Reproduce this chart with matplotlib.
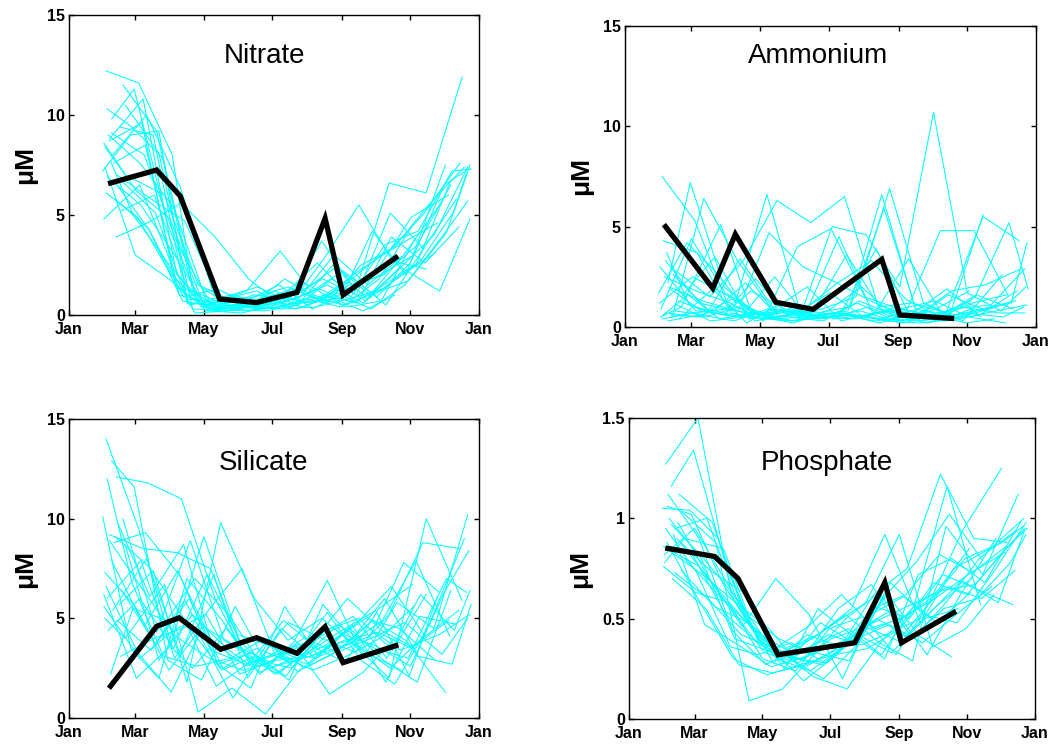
import matplotlib.pyplot as plt

plt.rcParams['font.family'] = ['Liberation Sans', 'DejaVu Sans']

# sampling days (day of year) for each year of the record
days = [
    [33, 62, 92, 110, 140, 170, 200, 230, 262, 292, 325, 355],
    [38, 58, 88, 118, 148, 178, 208, 238, 268, 298, 330],
    [30, 55, 80, 105, 135, 165, 195, 225, 255, 285, 315, 348],
    [42, 70, 100, 130, 160, 190, 220, 250, 280, 310, 340],
    [36, 66, 96, 126, 156, 186, 216, 246, 276, 306],
    [45, 75, 105, 135, 165, 195, 225, 255, 285, 318, 350],
    [32, 50, 85, 115, 145, 175, 205, 235, 265, 295, 330, 357],
    [40, 68, 98, 128, 158, 188, 218, 248, 278, 308],
    [34, 64, 94, 124, 154, 184, 214, 244, 274, 304, 334, 356],
    [48, 78, 108, 138, 168, 198, 228, 258, 288, 318],
    [31, 60, 90, 120, 150, 180, 210, 240, 270, 300, 335],
    [44, 72, 102, 132, 162, 192, 222, 252, 282, 312, 345],
    [37, 57, 87, 112, 142, 172, 202, 232, 262, 290],
    [41, 71, 101, 131, 161, 191, 221, 251, 281, 311, 341, 358],
    [35, 63, 93, 123, 153, 183, 213, 243, 273, 303, 328],
    [50, 80, 110, 140, 170, 200, 230, 260, 290, 320, 352],
    [33, 61, 91, 116, 146, 176, 206, 236, 266, 296],
    [39, 69, 99, 129, 159, 189, 219, 249, 279, 309, 339],
    [46, 76, 106, 136, 166, 196, 226, 256, 286, 316],
    [32, 59, 89, 119, 149, 179, 209, 239, 269, 299, 332, 355],
    [36, 65, 95, 125, 155, 185, 215, 245, 275, 305, 338],
    [43, 73, 103, 133, 163, 193, 223, 253, 283, 313, 343, 357],
    [34, 56, 84, 114, 144, 174, 204, 234, 264, 294, 326],
    [47, 77, 107, 137, 167, 197, 227, 257, 287, 317, 347],
    [38, 67, 97, 127, 157, 187, 217, 247, 277, 307],
    [31, 63, 93, 122, 152, 182, 212, 242, 272, 302, 336, 354],
]

nitrate = [
    [12.2, 11.6, 8.0, 1.2, 0.5, 0.4, 0.8, 1.5, 0.6, 2.2, 4.0, 7.4],
    [9.8, 11.3, 4.5, 0.4, 0.3, 0.6, 1.2, 2.4, 1.0, 3.0, 5.5],
    [7.2, 9.0, 9.2, 0.8, 0.6, 0.9, 1.4, 0.7, 2.1, 3.2, 5.0, 7.6],
    [3.9, 4.6, 5.6, 3.9, 1.8, 0.5, 0.7, 1.5, 2.0, 3.5, 6.5],
    [8.8, 10.8, 2.0, 0.3, 0.2, 0.4, 0.9, 0.5, 1.8, 4.5],
    [9.4, 9.0, 0.6, 0.5, 1.0, 0.8, 3.7, 1.2, 6.6, 6.1, 11.9],
    [8.4, 7.0, 6.0, 1.5, 0.4, 0.3, 0.6, 2.5, 0.8, 2.4, 1.2, 4.8],
    [7.6, 8.5, 1.0, 0.6, 1.2, 3.2, 1.0, 0.4, 0.7, 3.8],
    [6.9, 5.5, 3.0, 0.2, 0.1, 0.5, 1.1, 2.2, 0.9, 2.6, 6.5, 7.3],
    [11.5, 9.2, 1.7, 0.9, 1.4, 0.6, 2.9, 5.5, 2.7, 2.3],
    [8.6, 6.2, 4.8, 0.5, 0.8, 0.4, 1.6, 0.6, 4.2, 2.0, 7.5],
    [6.4, 4.2, 0.9, 1.3, 0.5, 1.8, 0.8, 1.9, 0.5, 3.0, 5.8],
    [7.7, 5.0, 2.7, 0.1, 0.2, 0.7, 0.3, 0.9, 0.2, 1.0],
    [5.8, 4.3, 0.7, 0.4, 0.6, 1.0, 2.6, 0.9, 3.5, 4.2, 7.2, 7.3],
    [9.0, 7.6, 5.4, 0.6, 0.3, 1.2, 0.5, 1.4, 2.8, 3.8, 4.6],
    [10.5, 8.1, 0.3, 0.2, 0.8, 1.3, 0.6, 2.5, 3.4, 5.5, 7.4],
    [6.1, 4.9, 2.0, 0.7, 1.0, 0.5, 0.9, 3.0, 1.5, 2.9],
    [8.0, 10.0, 6.4, 1.0, 0.4, 0.3, 0.4, 0.8, 1.3, 2.5, 6.6],
    [5.2, 6.0, 1.3, 0.3, 0.6, 0.9, 1.8, 1.0, 5.1, 3.3],
    [7.4, 3.0, 1.8, 0.4, 0.9, 0.7, 0.4, 1.1, 0.3, 1.5, 3.9, 5.7],
    [8.7, 9.6, 1.4, 0.3, 0.5, 1.0, 0.6, 0.9, 2.3, 4.9, 6.0],
    [7.0, 5.8, 4.7, 0.9, 0.4, 0.7, 1.3, 0.6, 1.6, 2.7, 5.2, 7.5],
    [10.3, 9.4, 7.8, 0.6, 0.3, 0.2, 0.5, 1.8, 0.7, 1.9, 3.1],
    [6.7, 5.1, 0.5, 0.8, 1.2, 0.4, 1.0, 0.6, 3.9, 2.6, 4.4],
    [9.1, 8.0, 3.5, 0.5, 0.7, 1.5, 0.3, 1.2, 2.0, 3.0],
    [4.8, 6.5, 2.3, 0.2, 0.6, 0.3, 0.8, 0.4, 1.1, 1.7, 4.1, 7.1],
]

ammonium = [
    [7.5, 5.3, 1.0, 0.6, 0.8, 0.5, 0.6, 0.4, 0.3, 0.9, 1.1, 2.9],
    [2.2, 7.2, 2.0, 0.6, 0.9, 0.4, 1.3, 0.6, 0.2, 0.5, 1.0],
    [1.7, 4.2, 2.8, 1.0, 0.5, 0.6, 0.7, 0.4, 0.8, 0.3, 0.6, 1.8],
    [0.5, 6.4, 3.3, 0.9, 0.6, 4.5, 0.7, 0.8, 4.8, 4.8, 1.6],
    [3.3, 1.2, 0.8, 6.6, 0.7, 0.5, 1.0, 0.3, 0.9, 1.8],
    [2.8, 1.5, 3.3, 6.3, 5.2, 6.5, 1.0, 1.2, 0.7, 5.5, 4.3],
    [0.5, 1.0, 5.1, 0.3, 0.6, 0.9, 1.5, 6.9, 1.2, 0.4, 0.8, 1.1],
    [1.9, 0.8, 0.5, 4.7, 3.0, 2.2, 1.3, 0.6, 0.3, 0.9],
    [4.3, 3.7, 0.7, 0.4, 0.3, 5.0, 4.6, 2.0, 10.7, 1.7, 0.8, 2.0],
    [0.4, 1.9, 0.2, 1.2, 0.6, 0.8, 6.6, 0.9, 0.5, 5.6],
    [1.2, 2.5, 1.6, 0.5, 0.2, 0.8, 2.0, 0.5, 1.1, 0.3, 2.6],
    [0.8, 0.6, 3.4, 0.9, 2.0, 0.3, 0.7, 3.4, 0.6, 1.6, 0.9],
    [3.7, 1.1, 0.6, 1.8, 0.9, 0.4, 0.6, 0.3, 0.2, 0.4],
    [0.6, 0.5, 1.0, 0.4, 0.5, 0.7, 0.3, 0.5, 0.4, 1.5, 5.2, 1.9],
    [2.5, 1.8, 1.2, 0.3, 4.0, 4.9, 1.5, 0.9, 0.6, 0.2, 0.4],
    [1.5, 3.5, 0.4, 0.8, 0.7, 1.0, 5.9, 0.6, 1.8, 2.1, 2.9],
    [0.4, 0.7, 0.9, 2.4, 0.5, 0.3, 1.2, 0.4, 0.8, 0.6],
    [2.0, 1.3, 0.8, 0.6, 0.9, 2.2, 3.3, 1.4, 0.5, 1.2, 1.6],
    [1.1, 0.3, 0.5, 0.9, 0.4, 0.6, 0.2, 0.7, 1.9, 0.5],
    [0.9, 4.4, 1.7, 0.7, 0.3, 0.5, 0.8, 0.3, 0.5, 1.0, 0.7, 0.7],
    [0.7, 0.5, 1.4, 0.5, 1.1, 0.4, 0.6, 0.9, 1.3, 0.5, 0.2],
    [2.6, 0.9, 0.5, 2.5, 0.4, 0.8, 3.9, 0.6, 0.3, 0.8, 1.2, 4.2],
    [0.6, 1.6, 0.4, 0.7, 0.3, 0.5, 0.4, 0.8, 0.3, 0.6, 1.0],
    [1.3, 0.7, 2.2, 0.5, 0.8, 3.6, 0.9, 0.4, 1.6, 0.9, 1.3],
    [0.3, 0.6, 0.3, 0.9, 0.5, 0.7, 0.5, 0.2, 0.6, 1.3],
    [3.0, 0.8, 0.6, 0.4, 0.7, 1.7, 0.5, 1.0, 0.4, 0.7, 0.5, 1.0],
]

silicate = [
    [14.0, 9.5, 3.5, 2.5, 4.5, 2.2, 3.8, 6.9, 3.0, 5.8, 4.5, 10.2],
    [12.9, 11.6, 2.9, 1.9, 5.6, 2.5, 3.0, 3.5, 4.1, 7.8, 6.3],
    [10.1, 3.5, 2.0, 7.0, 5.0, 2.6, 4.8, 4.0, 3.3, 5.2, 8.8, 8.5],
    [12.1, 11.8, 11.0, 6.0, 2.8, 3.3, 3.0, 4.5, 2.9, 1.8, 6.4],
    [9.2, 8.5, 8.3, 7.5, 3.2, 2.2, 3.6, 2.8, 5.5, 6.7],
    [5.7, 7.4, 1.8, 9.8, 6.0, 3.9, 5.0, 3.6, 2.0, 10.0, 5.9],
    [5.0, 4.0, 6.7, 0.3, 1.5, 0.2, 2.4, 3.2, 4.6, 3.4, 4.2, 5.2],
    [8.8, 9.3, 7.2, 3.8, 2.6, 3.4, 3.9, 6.0, 4.4, 3.5],
    [6.0, 7.9, 3.0, 5.4, 7.5, 3.1, 2.7, 4.2, 3.6, 2.6, 6.3, 8.4],
    [10.0, 4.3, 8.9, 3.9, 2.9, 2.5, 4.4, 5.0, 3.4, 6.2],
    [6.2, 2.0, 3.6, 9.1, 4.2, 3.6, 2.5, 3.4, 4.9, 3.9, 1.3],
    [9.7, 6.1, 8.7, 2.7, 1.5, 5.6, 3.1, 4.7, 1.8, 5.1, 4.7],
    [2.2, 5.5, 4.9, 7.0, 5.2, 2.6, 3.6, 1.2, 2.3, 4.0],
    [9.1, 7.6, 5.1, 1.6, 2.8, 4.9, 3.5, 3.9, 6.0, 3.1, 2.7, 5.7],
    [4.4, 6.0, 3.5, 7.2, 3.8, 2.2, 3.3, 4.4, 5.4, 2.1, 6.1],
    [8.7, 2.9, 5.2, 3.5, 2.3, 3.0, 5.3, 2.9, 1.7, 4.6, 9.0],
    [6.6, 3.3, 1.3, 4.2, 1.0, 3.7, 2.9, 4.5, 3.2, 2.4],
    [5.4, 8.0, 3.2, 7.2, 2.0, 4.5, 3.0, 3.7, 4.9, 7.9, 4.1],
    [3.1, 4.0, 4.6, 2.4, 3.1, 1.9, 5.7, 3.7, 2.5, 4.1],
    [7.3, 5.6, 2.4, 4.6, 3.6, 2.8, 4.0, 3.3, 4.0, 4.8, 3.2, 5.0],
    [8.9, 6.5, 4.1, 3.0, 2.4, 2.9, 3.1, 3.9, 4.3, 3.5, 4.9],
    [4.9, 3.4, 5.9, 2.7, 3.3, 2.1, 4.2, 5.1, 3.0, 6.2, 4.4, 6.4],
    [12.0, 6.8, 3.1, 2.6, 3.0, 4.0, 2.3, 3.8, 5.0, 4.5, 2.9],
    [6.4, 3.7, 6.0, 2.5, 3.5, 2.8, 3.6, 4.8, 6.6, 4.1, 5.4],
    [7.9, 4.6, 7.4, 3.4, 2.7, 3.2, 2.4, 3.1, 4.0, 5.6],
    [5.6, 3.0, 4.4, 5.2, 2.2, 2.9, 3.8, 4.6, 3.5, 3.0, 7.0, 6.3],
]

phosphate = [
    [1.27, 1.5, 0.62, 0.45, 0.35, 0.42, 0.55, 0.92, 0.48, 0.75, 0.85, 1.0],
    [1.16, 1.34, 0.75, 0.37, 0.3, 0.28, 0.45, 0.55, 0.32, 0.62, 0.9],
    [1.05, 1.04, 0.9, 0.52, 0.4, 0.32, 0.5, 0.63, 0.4, 0.58, 0.8, 0.94],
    [0.95, 1.0, 0.55, 0.28, 0.42, 0.36, 0.62, 0.75, 1.22, 0.9, 0.88],
    [0.84, 0.72, 0.58, 0.45, 0.25, 0.35, 0.47, 0.55, 0.63, 0.85],
    [1.12, 0.98, 0.5, 0.33, 0.4, 0.52, 0.38, 0.29, 0.96, 0.72, 1.12],
    [0.78, 0.9, 0.85, 0.4, 0.3, 0.2, 0.37, 0.68, 0.52, 0.48, 0.75, 0.98],
    [0.92, 0.47, 0.37, 0.26, 0.31, 0.55, 0.67, 0.41, 0.57, 0.7],
    [0.88, 0.58, 0.3, 0.22, 0.27, 0.32, 0.35, 0.45, 0.68, 0.62, 0.82, 0.95],
    [1.03, 0.88, 0.09, 0.15, 0.33, 0.29, 0.6, 0.78, 1.02, 0.79],
    [0.76, 0.63, 0.58, 0.3, 0.24, 0.45, 0.51, 0.32, 0.58, 0.94, 1.25],
    [0.98, 0.7, 0.46, 0.7, 0.52, 0.2, 0.56, 0.5, 0.72, 0.65, 0.57],
    [0.86, 0.82, 0.52, 0.4, 0.27, 0.48, 0.38, 0.62, 0.41, 0.31],
    [0.73, 0.6, 0.42, 0.35, 0.46, 0.62, 0.45, 0.52, 0.64, 0.67, 0.86, 0.95],
    [1.12, 0.9, 0.44, 0.27, 0.36, 0.47, 0.58, 0.92, 0.36, 0.45, 0.62],
    [0.8, 0.62, 0.46, 0.25, 0.55, 0.42, 0.3, 0.72, 0.8, 0.68, 0.98],
    [0.95, 0.73, 0.36, 0.32, 0.38, 0.28, 0.42, 0.33, 0.5, 0.55],
    [0.7, 0.55, 0.27, 0.23, 0.27, 0.35, 0.55, 0.62, 0.82, 0.73, 0.86],
    [0.88, 0.67, 0.48, 0.34, 0.21, 0.15, 0.38, 0.56, 1.16, 0.57],
    [0.82, 0.95, 0.67, 0.38, 0.31, 0.42, 0.37, 0.44, 0.52, 0.69, 0.58, 0.93],
    [1.0, 0.8, 0.4, 0.34, 0.3, 0.37, 0.45, 0.5, 0.6, 0.72, 0.83],
    [0.9, 0.74, 0.63, 0.3, 0.24, 0.36, 0.5, 0.4, 0.55, 0.6, 0.78, 0.92],
    [1.06, 1.02, 0.68, 0.42, 0.31, 0.27, 0.4, 0.47, 0.38, 0.52, 0.66],
    [0.74, 0.56, 0.48, 0.3, 0.37, 0.45, 0.32, 0.57, 0.66, 0.6, 0.74],
    [0.97, 0.8, 0.6, 0.36, 0.19, 0.32, 0.52, 0.61, 0.48, 0.63],
    [0.86, 0.76, 0.54, 0.33, 0.28, 0.4, 0.46, 0.39, 0.59, 0.8, 0.88, 0.96],
]

# the highlighted year (thick black line)
yr_days_no3 = [37, 78, 99, 134, 167, 203, 228, 244, 291]
yr_no3 = [6.6, 7.25, 5.95, 0.8, 0.62, 1.13, 4.83, 1.0, 2.87]
yr_days_nh4 = [36, 78, 98, 134, 167, 228, 244, 290]
yr_nh4 = [5.0, 1.93, 4.62, 1.23, 0.88, 3.37, 0.6, 0.43]
yr_days_si = [37, 78, 98, 135, 167, 203, 228, 244, 291]
yr_si = [1.6, 4.6, 5.03, 3.45, 4.03, 3.25, 4.58, 2.78, 3.63]
yr_days_po4 = [35, 77, 98, 134, 203, 230, 245, 292]
yr_po4 = [0.85, 0.81, 0.70, 0.32, 0.38, 0.68, 0.38, 0.53]

month_days = [0, 59, 120, 181, 243, 304, 365]
month_labels = ['Jan', 'Mar', 'May', 'Jul', 'Sep', 'Nov', 'Jan']

panels = [
    # name, data, year days, year values, yticks, ytick labels, axes rect, title xy, ylabel x
    ('Nitrate', nitrate, yr_days_no3, yr_no3, [0, 5, 10, 15], ['0', '5', '10', '15'],
     [0.0654, 0.5772, 0.3886, 0.4027], (0.478, 0.863), -0.078),
    ('Ammonium', ammonium, yr_days_nh4, yr_nh4, [0, 5, 10, 15], ['0', '5', '10', '15'],
     [0.5924, 0.5611, 0.3896, 0.4040], (0.47, 0.90), -0.078),
    ('Silicate', silicate, yr_days_si, yr_si, [0, 5, 10, 15], ['0', '5', '10', '15'],
     [0.0654, 0.0362, 0.3886, 0.4013], (0.474, 0.853), -0.078),
    ('Phosphate', phosphate, yr_days_po4, yr_po4, [0, 0.5, 1, 1.5], ['0', '0.5', '1', '1.5'],
     [0.5962, 0.0349, 0.3848, 0.4040], (0.488, 0.85), -0.091),
]

fig = plt.figure(figsize=(10.55, 7.45), dpi=100)

for name, data, ydays, yvals, yt, ytl, rect, txy, lx in panels:
    ax = fig.add_axes(rect)
    for d, v in zip(days, data):
        ax.plot(d, v, color='#00ffff', lw=0.75)
    ax.plot(ydays, yvals, color='black', lw=3.8, solid_joinstyle='miter')
    ax.set_xlim(0, 365)
    ax.set_ylim(yt[0], yt[-1])
    ax.set_xticks(month_days)
    ax.set_xticklabels(month_labels, fontweight='bold')
    ax.set_yticks(yt)
    ax.set_yticklabels(ytl, fontweight='bold')
    ax.tick_params(direction='in', top=True, right=True, length=3.5, width=1,
                   labelsize=11.5)
    ax.tick_params(axis='x', pad=5)
    ax.tick_params(axis='y', pad=3)
    for s in ax.spines.values():
        s.set_linewidth(1.0)
    ax.set_ylabel('\u03bcM', fontsize=19, fontweight='bold')
    ax.yaxis.set_label_coords(lx, 0.5)
    ax.text(txy[0], txy[1], name, transform=ax.transAxes, ha='center', va='center',
            fontsize=20)

fig.savefig('out.png', dpi=100)
